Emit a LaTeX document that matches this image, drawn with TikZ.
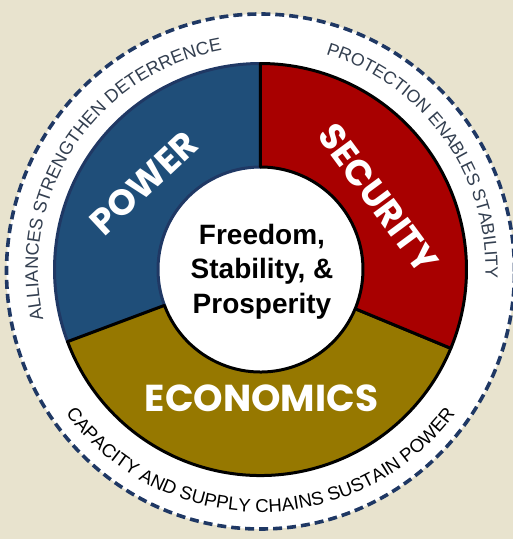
\documentclass[tikz,border=0pt]{standalone}
\usepackage{fontspec}
\setmainfont{Liberation Sans}
\newfontfamily\popfont{Poppins}
\usetikzlibrary{decorations.text}
\definecolor{bg}{HTML}{E8E3CE}
\definecolor{powblue}{HTML}{1F4E79}
\definecolor{powedge}{HTML}{1F3864}
\definecolor{secred}{HTML}{A80000}
\definecolor{ecogold}{HTML}{967800}
\definecolor{dashnavy}{HTML}{1F3864}
\definecolor{captext}{HTML}{333F50}
\tikzset{
  sectorbox/.style={line width=3pt, line join=round},
  seglabel/.style={text=white, inner sep=0pt, font=\popfont\bfseries\fontsize{36}{40}\selectfont},
  centertext/.style={text=black, inner sep=0pt, anchor=base, font=\bfseries\fontsize{28}{32}\selectfont},
  ringtext/.style={decorate, decoration={text along path, text align=center, text color=#1}}
}
\begin{document}
\begin{tikzpicture}[x=1pt,y=1pt]
\useasboundingbox (-260.5,-269.5) rectangle (252.5,269.5);
\fill[bg] (-260.5,-269.5) rectangle (252.5,269.5);
\draw[fill=white, draw=dashnavy, line width=3.6pt, dash pattern=on 9pt off 5pt] (0,-2) ellipse [x radius=254, y radius=257.5];
% sectors
\filldraw[sectorbox, fill=powblue, draw=powedge] (90:206) arc[start angle=90,end angle=200.5,radius=206] -- (200.5:102.5) arc[start angle=200.5,end angle=90,radius=102.5] -- cycle;
\filldraw[sectorbox, fill=ecogold, draw=black] (200.5:206) arc[start angle=200.5,end angle=337.5,radius=206] -- (337.5:102.5) arc[start angle=337.5,end angle=200.5,radius=102.5] -- cycle;
\filldraw[sectorbox, fill=secred, draw=black] (-22.5:206) arc[start angle=-22.5,end angle=90,radius=206] -- (90:102.5) arc[start angle=90,end angle=-22.5,radius=102.5] -- cycle;
% labels
\node[seglabel, rotate=43] (power) at (-116.5,86.5) {POWER};
\node[seglabel, rotate=-53.5] (security) at (117.5,71.5) {SECURITY};
\node[seglabel, font=\popfont\bfseries\fontsize{37.5}{40}\selectfont] (economics) at (1,-129) {ECONOMICS};
\node[centertext] (t1) at (1.5,25.5) {Freedom,};
\node[centertext] (t2) at (1.5,-8.5) {Stability, \&};
\node[centertext] (t3) at (1.5,-43.5) {Prosperity};
% ring texts
\path[ringtext=captext, decoration={text={|\fontsize{18.2}{20}\selectfont|ALLIANCES STRENGTHEN DETERRENCE}}] (206.4:222.5) arc[start angle=206.4,end angle=86.4,radius=222.5];
\path[ringtext=captext, decoration={text={|\fontsize{17.7}{20}\selectfont|PROTECTION ENABLES STABILITY}}] (90.4:225) arc[start angle=90.4,end angle=-19.6,radius=225];
\path[ringtext=black, decoration={text={|\fontsize{18.6}{20}\selectfont|CAPACITY AND SUPPLY CHAINS SUSTAIN POWER}}] (200:242.5) arc[start angle=200,end angle=340,radius=242.5];
\end{tikzpicture}
\end{document}
